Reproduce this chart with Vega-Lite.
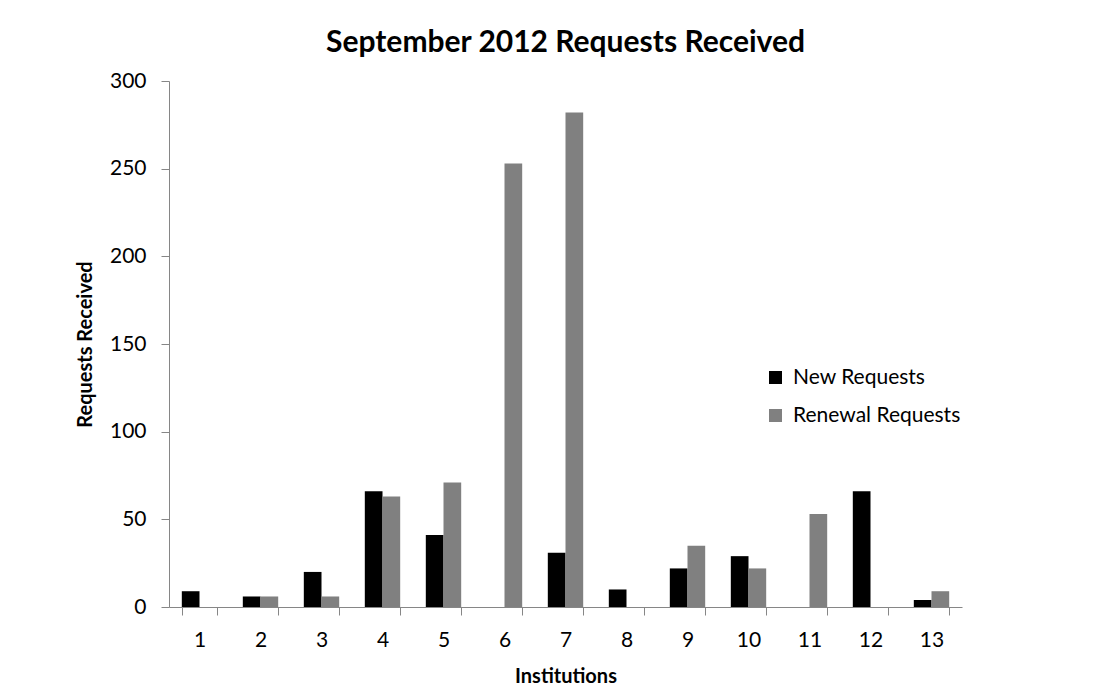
{
  "$schema": "https://vega.github.io/schema/vega-lite/v6.json",
  "autosize": "none",
  "width": 793,
  "height": 526,
  "padding": {"left": 169, "top": 81, "right": 146, "bottom": 91},
  "background": "white",
  "title": {
    "text": "September 2012 Requests Received",
    "font": "Lato",
    "fontSize": 30,
    "fontWeight": "bold",
    "color": "#000000",
    "anchor": "middle",
    "frame": "group",
    "offset": 12
  },
  "data": {
    "values": [
      {"inst": "1", "type": "New Requests", "value": 9},
      {"inst": "1", "type": "Renewal Requests", "value": 0},
      {"inst": "2", "type": "New Requests", "value": 6},
      {"inst": "2", "type": "Renewal Requests", "value": 6},
      {"inst": "3", "type": "New Requests", "value": 20},
      {"inst": "3", "type": "Renewal Requests", "value": 6},
      {"inst": "4", "type": "New Requests", "value": 66},
      {"inst": "4", "type": "Renewal Requests", "value": 63},
      {"inst": "5", "type": "New Requests", "value": 41},
      {"inst": "5", "type": "Renewal Requests", "value": 71},
      {"inst": "6", "type": "New Requests", "value": 0},
      {"inst": "6", "type": "Renewal Requests", "value": 253},
      {"inst": "7", "type": "New Requests", "value": 31},
      {"inst": "7", "type": "Renewal Requests", "value": 282},
      {"inst": "8", "type": "New Requests", "value": 10},
      {"inst": "8", "type": "Renewal Requests", "value": 0},
      {"inst": "9", "type": "New Requests", "value": 22},
      {"inst": "9", "type": "Renewal Requests", "value": 35},
      {"inst": "10", "type": "New Requests", "value": 29},
      {"inst": "10", "type": "Renewal Requests", "value": 22},
      {"inst": "11", "type": "New Requests", "value": 0},
      {"inst": "11", "type": "Renewal Requests", "value": 53},
      {"inst": "12", "type": "New Requests", "value": 66},
      {"inst": "12", "type": "Renewal Requests", "value": 0},
      {"inst": "13", "type": "New Requests", "value": 4},
      {"inst": "13", "type": "Renewal Requests", "value": 9}
    ]
  },
  "mark": {"type": "bar"},
  "encoding": {
    "x": {
      "field": "inst",
      "type": "ordinal",
      "sort": ["1","2","3","4","5","6","7","8","9","10","11","12","13"],
      "scale": {"paddingInner": 0.42, "paddingOuter": 0.21},
      "axis": {
        "title": "Institutions",
        "labelAngle": 0,
        "tickBand": "extent",
        "tickSize": 8,
        "labelPadding": 14,
        "labelFontSize": 21,
        "labelFont": "Lato",
        "labelColor": "#000000",
        "titleFont": "Lato",
        "titleFontSize": 20,
        "titleFontWeight": "bold",
        "titleColor": "#000000",
        "titlePadding": 16,
        "domainColor": "#868686",
        "tickColor": "#868686",
        "grid": false
      }
    },
    "xOffset": {
      "field": "type",
      "type": "nominal",
      "scale": {"paddingInner": 0, "paddingOuter": 0}
    },
    "y": {
      "field": "value",
      "type": "quantitative",
      "scale": {"domain": [0, 300]},
      "axis": {
        "title": "Requests Received",
        "values": [0, 50, 100, 150, 200, 250, 300],
        "tickSize": 8,
        "labelPadding": 15,
        "labelFontSize": 21,
        "labelFont": "Lato",
        "labelColor": "#000000",
        "titleFont": "Lato",
        "titleFontSize": 20,
        "titleFontWeight": "bold",
        "titleColor": "#000000",
        "titlePadding": 14,
        "domainColor": "#868686",
        "tickColor": "#868686",
        "grid": false
      }
    },
    "color": {
      "field": "type",
      "type": "nominal",
      "scale": {"domain": ["New Requests", "Renewal Requests"], "range": ["#000000", "#808080"]},
      "legend": {
        "title": null,
        "orient": "none",
        "legendX": 596,
        "legendY": 286,
        "symbolType": "square",
        "symbolSize": 169,
        "symbolStrokeWidth": 0,
        "labelFont": "Lato",
        "labelFontSize": 21,
        "labelLimit": 400,
        "labelColor": "#000000",
        "rowPadding": 16,
        "labelOffset": 7
      }
    }
  },
  "config": {"view": {"stroke": null}}
}
